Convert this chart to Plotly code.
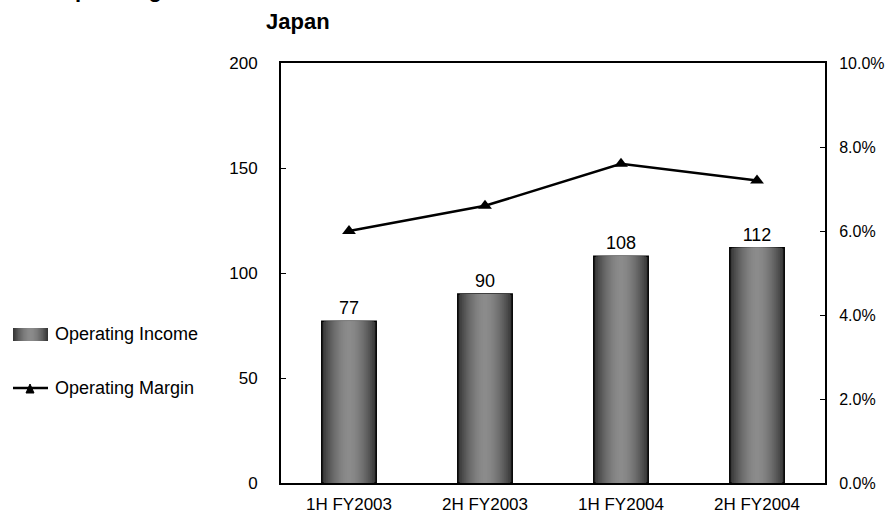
import plotly.graph_objects as go

# Half-year results for the Japan segment
periods = ["1H FY2003", "2H FY2003", "1H FY2004", "2H FY2004"]
operating_income = [77, 90, 108, 112]
operating_margin = [0.060, 0.066, 0.076, 0.072]

FONT = "Arial, Liberation Sans, sans-serif"
W, H = 885, 525
L, R, T, B = 281, 60, 63, 42
PW, PH = W - L - R, H - T - B

BAR_WIDTH = 0.40
DARK, LIGHT = 0x36, 0x8C
N_LAYERS = 14


def shade(r):
    """Grey level for normalized distance r (0 centre .. 1 edge) of a cylinder."""
    v = int(round(LIGHT - (LIGHT - DARK) * r ** 1.8))
    return f"rgb({v},{v},{v})"


def px(x):
    return (x - L) / PW


def py(y):
    return (H - B - y) / PH


fig = go.Figure()

# Cylinder-shaded bars: nested bars of narrowing width, lighter toward the middle
for i in range(N_LAYERS):
    r = 1 - i / N_LAYERS
    outer = i == 0
    fig.add_trace(go.Bar(
        x=periods,
        y=operating_income,
        width=[BAR_WIDTH * r] * len(periods),
        marker=dict(color=shade(r),
                    line=dict(color="black" if outer else shade(r),
                              width=1.5 if outer else 0)),
        text=[str(v) for v in operating_income] if outer else None,
        textposition="outside" if outer else None,
        textfont=dict(family=FONT, size=18, color="black"),
        cliponaxis=False,
        showlegend=False,
        hoverinfo="skip" if not outer else None,
        name="Operating Income",
    ))

fig.add_trace(go.Scatter(
    x=periods,
    y=operating_margin,
    yaxis="y2",
    mode="lines+markers",
    line=dict(color="black", width=2.5),
    marker=dict(symbol="triangle-up", size=12, color="black"),
    showlegend=False,
    name="Operating Margin",
))

shapes = []
# Legend swatch for the bars (same cylinder shading)
lx0, lx1, ly0, ly1 = 13, 48, 328, 341
for i in range(N_LAYERS):
    r = 1 - i / N_LAYERS
    cx, hw = (lx0 + lx1) / 2, (lx1 - lx0) / 2 * r
    shapes.append(dict(type="rect", xref="paper", yref="paper",
                       x0=px(cx - hw), x1=px(cx + hw), y0=py(ly1), y1=py(ly0),
                       fillcolor=shade(r), line=dict(width=0), layer="above"))
# Legend line with triangle for the margin
shapes.append(dict(type="line", xref="paper", yref="paper",
                   x0=px(13), x1=px(48), y0=py(388), y1=py(388),
                   line=dict(color="black", width=2.5)))
shapes.append(dict(type="path", xref="paper", yref="paper",
                   path=f"M {px(26)} {py(393)} L {px(34)} {py(393)} L {px(30)} {py(384)} Z",
                   fillcolor="black", line=dict(color="black", width=1)))

annotations = [
    dict(text="Operating Income", xref="paper", yref="paper",
         x=px(53), y=py(334), xanchor="left", yanchor="middle", showarrow=False,
         font=dict(family=FONT, size=18, color="black")),
    dict(text="Operating Margin", xref="paper", yref="paper",
         x=px(53), y=py(388), xanchor="left", yanchor="middle", showarrow=False,
         font=dict(family=FONT, size=18, color="black")),
    dict(text="<b>Japan</b>", xref="paper", yref="paper",
         x=px(264), y=py(22), xanchor="left", yanchor="middle", showarrow=False,
         font=dict(family=FONT, size=22, color="black")),
    dict(text="<b>Operating Income</b>", xref="paper", yref="paper",
         x=px(56), y=py(-10), xanchor="left", yanchor="middle", showarrow=False,
         font=dict(family=FONT, size=22, color="black")),
]

fig.update_layout(
    width=W, height=H,
    margin=dict(l=L, r=R, t=T, b=B, autoexpand=False),
    paper_bgcolor="white", plot_bgcolor="white",
    barmode="overlay",
    font=dict(family=FONT, size=17, color="black"),
    xaxis=dict(showline=True, linecolor="black", linewidth=2, mirror=True,
               showgrid=False, ticks="", tickfont=dict(size=17),
               ticklabelstandoff=5, automargin=False),
    yaxis=dict(range=[0, 200], dtick=50, showline=True, linecolor="black",
               linewidth=2, showgrid=False, zeroline=False, ticks="inside",
               ticklen=5, tickcolor="black", tickwidth=1,
               tickfont=dict(size=17), ticklabelstandoff=18, automargin=False),
    yaxis2=dict(range=[0, 0.10], dtick=0.02, tickformat=".1%", overlaying="y",
                side="right", showline=True, linecolor="black", linewidth=2,
                showgrid=False, zeroline=False, ticks="inside", ticklen=5,
                tickcolor="black", tickwidth=1, tickfont=dict(size=16),
                ticklabelstandoff=9, automargin=False),
    shapes=shapes,
    annotations=annotations,
    showlegend=False,
)

fig.write_html("out.html")
